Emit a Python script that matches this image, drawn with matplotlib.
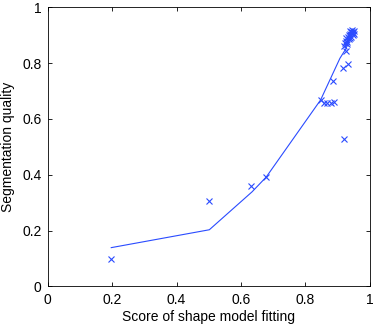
import matplotlib
matplotlib.use("Agg")
import matplotlib.pyplot as plt

plt.rcParams['font.family'] = ['Liberation Sans', 'DejaVu Sans']

# scatter data (fit score, segmentation quality)
score = [0.196, 0.502, 0.632, 0.679, 0.848, 0.859, 0.868, 0.881, 0.890, 0.888,
         0.921, 0.919, 0.932, 0.926,
         0.921, 0.924, 0.927, 0.930, 0.928, 0.933, 0.936, 0.940, 0.943, 0.946,
         0.950, 0.953, 0.948, 0.942, 0.938, 0.945, 0.940, 0.952, 0.935, 0.931]
quality = [0.100, 0.307, 0.359, 0.392, 0.667, 0.658, 0.658, 0.658, 0.662, 0.737,
           0.528, 0.781, 0.797, 0.844,
           0.860, 0.870, 0.880, 0.875, 0.890, 0.895, 0.900, 0.905, 0.910, 0.912,
           0.908, 0.905, 0.900, 0.895, 0.890, 0.918, 0.915, 0.915, 0.885, 0.868]

# fitted curve
fit_x = [0.197, 0.502, 0.635, 0.679, 0.848, 0.908, 0.926, 0.935, 0.945]
fit_y = [0.139, 0.203, 0.339, 0.392, 0.668, 0.817, 0.850, 0.875, 0.905]

xticks = [0, 0.2, 0.4, 0.6, 0.8, 1]
xticklabels = ['0', '0.2', '0.4', '0.6', '0.8', '1']
yticks = [0, 0.2, 0.4, 0.6, 0.8, 1]
yticklabels = ['0', '0.2', '0.4', '0.6', '0.8', '1']

fig = plt.figure(figsize=(3.74, 3.27), dpi=100)
ax = fig.add_axes([0.128, 0.124, 0.860, 0.854])
ax.plot(fit_x, fit_y, '-', color='#2a4bff', linewidth=0.8)
ax.plot(score, quality, 'x', color='#2a4bff', markersize=5, markeredgewidth=0.8)
ax.set_xlim(0, 1)
ax.set_ylim(0, 1)
ax.set_xticks(xticks)
ax.set_xticklabels(xticklabels)
ax.set_yticks(yticks)
ax.set_yticklabels(yticklabels)
ax.tick_params(direction='in', top=True, right=True, labelsize=10, length=3, width=0.6)
ax.tick_params(axis='x', pad=5)
ax.tick_params(axis='y', pad=4.5)
for s in ax.spines.values():
    s.set_linewidth(0.6)
ax.set_xlabel('Score of shape model fitting', fontsize=10, labelpad=2)
ax.set_ylabel('Segmentation quality', fontsize=10, labelpad=5)
fig.savefig('out.png', dpi=100)
